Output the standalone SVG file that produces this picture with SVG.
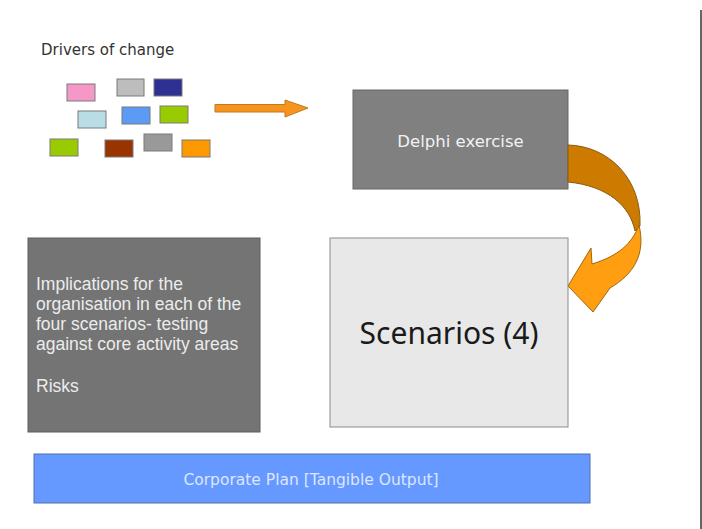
<svg xmlns="http://www.w3.org/2000/svg" width="702" height="529" viewBox="0 0 702 529">
<style>
.chip{stroke:#7a7a7a;stroke-width:1}
.lbl{font-family:"DejaVu Sans",Verdana,sans-serif}
.body{font-family:"Liberation Sans",Arial,sans-serif;font-size:17.5px;fill:#ececec}
</style>
<rect width="702" height="529" fill="#ffffff"/>
<line x1="701" y1="10" x2="701" y2="529" stroke="#666" stroke-width="2"/>
<g id="drivers">
<text class="lbl" x="41" y="55" font-size="15" fill="#333">Drivers of change</text>
<rect class="chip" x="67" y="84" width="28" height="17" fill="#f598c8"/>
<rect class="chip" x="117" y="79" width="27" height="17" fill="#bdbdbd"/>
<rect class="chip" x="154" y="79" width="28" height="17" fill="#2e3192"/>
<rect class="chip" x="78" y="111" width="28" height="17" fill="#b8dde4"/>
<rect class="chip" x="122" y="107" width="28" height="17" fill="#5b9bf5"/>
<rect class="chip" x="160" y="106" width="28" height="17" fill="#99cc00"/>
<rect class="chip" x="50" y="139" width="28" height="17" fill="#99cc00"/>
<rect class="chip" x="105" y="140" width="28" height="17" fill="#993300"/>
<rect class="chip" x="144" y="134" width="28" height="17" fill="#999999"/>
<rect class="chip" x="182" y="140" width="28" height="17" fill="#ff9900"/>
</g>
<g id="delphi">
<rect x="353" y="90" width="215" height="99" fill="#808080" stroke="#666" stroke-width="1"/>
<text class="lbl" x="460.5" y="147" font-size="16.5" fill="#f2f2f2" text-anchor="middle">Delphi exercise</text>
</g>
<g id="scenarios">
<rect x="330" y="238" width="238" height="189" fill="#e8e8e8" stroke="#8c8c8c" stroke-width="1"/>
<text x="449" y="344" font-family="'Noto Sans','Open Sans',sans-serif" font-size="30" fill="#1a1a1a" text-anchor="middle">Scenarios (4)</text>
</g>
<g id="implications">
<rect x="28" y="238" width="232" height="194" fill="#747474" stroke="#5e5e5e" stroke-width="1"/>
<text class="body"><tspan x="36" y="290">Implications for the</tspan><tspan x="36" y="310">organisation in each of the</tspan><tspan x="36" y="330">four scenarios- testing</tspan><tspan x="36" y="350">against core activity areas</tspan><tspan x="36" y="392">Risks</tspan></text>
</g>
<g id="corporate">
<rect x="34" y="454" width="556" height="49" fill="#6699ff" stroke="#4f6fb0" stroke-width="1"/>
<text class="lbl" x="311" y="485" font-size="15.5" fill="#dde6ff" text-anchor="middle">Corporate Plan [Tangible Output]</text>
</g>
<g id="connectors">
<path d="M215,104.5 L285,104.5 L285,100 L308,108 L285,117 L285,112 L215,112 Z" fill="#f7941d" stroke="#c07a20" stroke-width="1"/>
<path d="M568,145 C608,146 642,178 640,226 L635,231 C630,206 608,186 568,182 Z" fill="#cc7a00" stroke="#8a5a10" stroke-width="1"/>
<path d="M639,225 C646,254 634,274 610,288 L593,312 L568,286 L591,248 L592,264 C618,256 632,244 639,225 Z" fill="#ff9e10" stroke="#a06810" stroke-width="1"/>
</g>
</svg>
